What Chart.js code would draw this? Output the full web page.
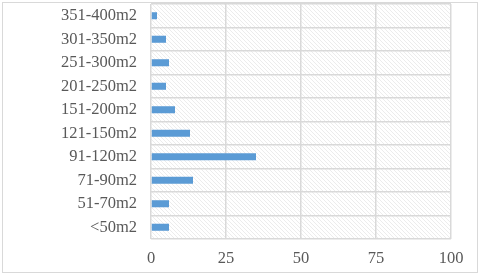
<!DOCTYPE html>
<html>
<head>
<meta charset="utf-8">
<script src="https://cdn.jsdelivr.net/npm/chart.js@4"></script>
<style>
  html, body { margin: 0; padding: 0; background: #ffffff; }
  #wrap { width: 480px; height: 277px; }
</style>
</head>
<body>
<div id="wrap"><canvas id="areaChart" width="480" height="277"></canvas></div>
<script>
    // Dữ liệu
    const categories = ['351-400m2', '301-350m2', '251-300m2', '201-250m2', '151-200m2',
                        '121-150m2', '91-120m2', '71-90m2', '51-70m2', '<50m2'];
    const values = [2, 5, 6, 5, 8, 13, 35, 14, 6, 6];
    const xTicks = [0, 25, 50, 75, 100];

    // Nền gạch chéo + khung ngoài
    const hatch = document.createElement('canvas');
    hatch.width = 4;
    hatch.height = 4;
    const hctx = hatch.getContext('2d');
    hctx.fillStyle = '#ffffff';
    hctx.fillRect(0, 0, 4, 4);
    hctx.strokeStyle = '#ececec';
    hctx.lineWidth = 1;
    hctx.beginPath();
    hctx.moveTo(0, 0); hctx.lineTo(4, 4);
    hctx.moveTo(-1, 3); hctx.lineTo(1, 5);
    hctx.moveTo(3, -1); hctx.lineTo(5, 1);
    hctx.stroke();

    Chart.register({
        id: 'hatchBackground',
        beforeDraw: function(chart) {
            const { ctx, chartArea } = chart;
            ctx.save();
            ctx.fillStyle = '#ffffff';
            ctx.fillRect(0, 0, chart.width, chart.height);
            ctx.strokeStyle = '#d9d9d9';
            ctx.lineWidth = 1;
            ctx.strokeRect(2.5, 2.5, 475, 270);
            ctx.fillStyle = ctx.createPattern(hatch, 'repeat');
            ctx.fillRect(chartArea.left, chartArea.top,
                         chartArea.right - chartArea.left, chartArea.bottom - chartArea.top);
            ctx.restore();
        }
    });

    const ctxArea = document.getElementById('areaChart').getContext('2d');
    const areaChart = new Chart(ctxArea, {
        type: 'bar',
        data: {
            labels: categories,
            datasets: [{
                data: values,
                backgroundColor: '#5b9bd5',
                borderWidth: 0,
                barPercentage: 0.6,
                categoryPercentage: 0.5
            }]
        },
        options: {
            indexAxis: 'y',
            responsive: false,
            animation: false,
            layout: { autoPadding: false, padding: { left: 0, top: 4, right: 29, bottom: 0 } },
            plugins: {
                legend: { display: false },
                tooltip: { enabled: false }
            },
            scales: {
                x: {
                    min: 0,
                    max: 100,
                    afterBuildTicks: function(scale) {
                        scale.ticks = xTicks.map(v => ({ value: v }));
                    },
                    afterFit: function(scale) {
                        scale.height = 38;
                        scale.paddingLeft = 0;
                        scale.paddingRight = 0;
                    },
                    border: { display: false },
                    grid: { color: '#d9d9d9', lineWidth: 1.5, drawTicks: false },
                    ticks: {
                        color: '#595959',
                        padding: 10,
                        maxRotation: 0,
                        font: { family: 'Liberation Serif', size: 16.5 }
                    }
                },
                y: {
                    afterFit: function(scale) {
                        scale.width = 151;
                        scale.paddingTop = 0;
                        scale.paddingBottom = 0;
                    },
                    border: { display: false },
                    grid: { color: '#d9d9d9', lineWidth: 1.5, drawTicks: false },
                    ticks: {
                        color: '#595959',
                        padding: 14,
                        autoSkip: false,
                        font: { family: 'Liberation Serif', size: 16.5 }
                    }
                }
            }
        }
    });
</script>
</body>
</html>
